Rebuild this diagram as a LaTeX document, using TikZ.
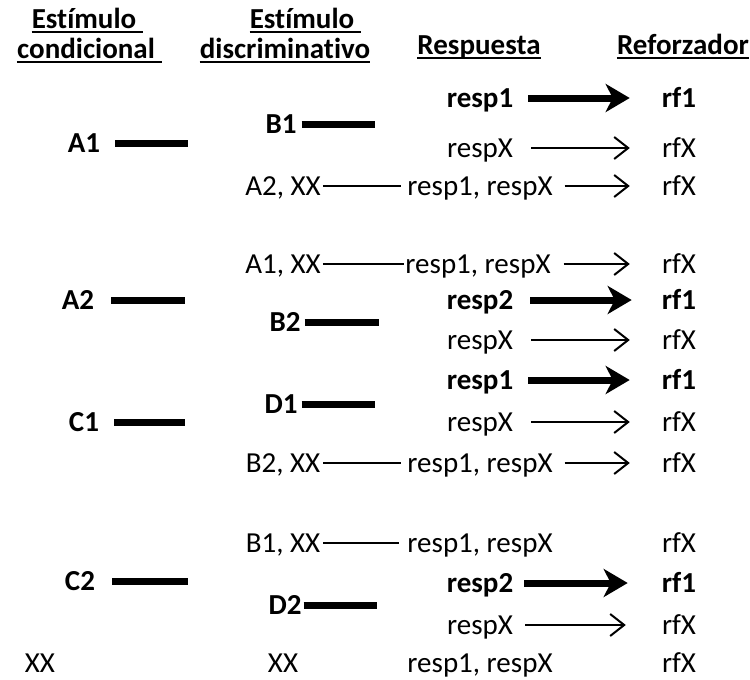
\documentclass[tikz,border=0pt]{standalone}
\usepackage{fontspec}
\setmainfont{Carlito}[Ligatures=NoCommon]
\usetikzlibrary{arrows.meta}
\begin{document}
\begin{tikzpicture}[x=1pt,y=-1pt,
  every node/.style={inner sep=0pt, text height=18pt, text depth=0pt,
    font=\fontsize{29}{33}\selectfont},
  bld/.style={font=\fontsize{29}{33}\selectfont\bfseries},
  hdr/.style={bld, text height=16pt},
  uline/.style={line width=2pt},
  bar/.style={line width=7pt},
  link/.style={line width=2pt},
  thinarr/.style={line width=2pt, shorten <=18pt, shorten >=32pt,
    -{Straight Barb[length=14pt,width=22pt,line width=2pt]}},
  thickarr/.style={line width=7pt, shorten <=15pt, shorten >=32pt,
    -{Stealth[length=24pt,width=28pt,inset=7pt]}},
]
\useasboundingbox (0,0) rectangle (750,680);

% column headings
\node[hdr] (h1a) at (84,20) {Estímulo};
\node[hdr] (h1b) at (86,50) {condicional};
\node[hdr] (h2a) at (302,20) {Estímulo};
\node[hdr] (h2b) at (285,50) {discriminativo};
\node[hdr] (h3) at (479,46) {Respuesta};
\node[hdr] (h4) at (683,46) {Reforzador};
\foreach \h/\extra in {h1a/7pt, h1b/7pt, h2a/7pt, h2b/0pt, h3/0pt, h4/0pt}
  \draw[uline] ([yshift=-4pt]\h.base west) -- ([xshift=\extra,yshift=-4pt]\h.base east);

% ---- block A1 / B1
\node[bld] (A1) at (84,143) {A1};
\coordinate (A1e) at (188,143);
\draw[bar, shorten <=15pt] (A1) -- (A1e);
\node[bld] (B1) at (281,124) {B1};
\coordinate (B1e) at (375,124);
\draw[bar, shorten <=5pt] (B1) -- (B1e);

\node[bld] (r1a) at (480,98) {resp1};
\node[bld] (f1a) at (679,98) {rf1};
\draw[thickarr] (r1a) -- (f1a);

\node (rxa) at (480,148) {respX};
\node (fxa) at (679,148) {rfX};
\draw[thinarr] (rxa) -- (fxa);

\node (sa) at (283,186) {A2, XX};
\node (rra) at (480,186) {resp1, respX};
\node (fra) at (679,186) {rfX};
\draw[link, shorten <=2pt, shorten >=6pt] (sa) -- (rra);
\draw[thinarr, shorten <=12pt] (rra) -- (fra);

% ---- block A2 / B2 and C1 / D1
\node (sb) at (283,264) {A1, XX};
\node (rrb) at (478,264) {resp1, respX};
\node (frb) at (679,264) {rfX};
\draw[link, shorten <=2pt, shorten >=1pt] (sb) -- (rrb);
\draw[thinarr, shorten <=13pt] (rrb) -- (frb);

\node[bld] (A2) at (78,300) {A2};
\coordinate (A2e) at (185,300);
\draw[bar, shorten <=17pt] (A2) -- (A2e);
\node[bld] (B2) at (285,322) {B2};
\coordinate (B2e) at (379,322);
\draw[bar, shorten <=4pt] (B2) -- (B2e);

\node[bld] (r2b) at (480,300) {resp2};
\node[bld] (f1b) at (679,300) {rf1};
\draw[thickarr, shorten <=17pt, shorten >=30pt] (r2b) -- (f1b);

\node (rxb) at (480,340) {respX};
\node (fxb) at (679,340) {rfX};
\draw[thinarr] (rxb) -- (fxb);

\node[bld] (r1c) at (480,380) {resp1};
\node[bld] (f1c) at (679,380) {rf1};
\draw[thickarr] (r1c) -- (f1c);

\node[bld] (D1) at (281,404) {D1};
\coordinate (D1e) at (375,404);
\draw[bar, shorten <=4pt] (D1) -- (D1e);
\node[bld] (C1) at (84,422) {C1};
\coordinate (C1e) at (185,422);
\draw[bar, shorten <=15pt] (C1) -- (C1e);

\node (rxc) at (480,422) {respX};
\node (fxc) at (679,422) {rfX};
\draw[thinarr] (rxc) -- (fxc);

\node (sc) at (283,463) {B2, XX};
\node (rrc) at (480,463) {resp1, respX};
\node (frc) at (679,463) {rfX};
\draw[link, shorten <=3pt, shorten >=6pt] (sc) -- (rrc);
\draw[thinarr, shorten <=12pt] (rrc) -- (frc);

% ---- block C2 / D2
\node (sd) at (283,543) {B1, XX};
\node (rrd) at (480,543) {resp1, respX};
\node (frd) at (679,543) {rfX};
\draw[link, shorten <=3pt, shorten >=8pt] (sd) -- (rrd);

\node[bld] (C2) at (80,581) {C2};
\coordinate (C2e) at (188,581);
\draw[bar, shorten <=17pt] (C2) -- (C2e);
\node[bld] (D2) at (285,605) {D2};
\coordinate (D2e) at (377,605);
\draw[bar, shorten <=2pt] (D2) -- (D2e);

\node[bld] (r2d) at (480,583) {resp2};
\node[bld] (f1d) at (679,583) {rf1};
\draw[thickarr, shorten <=11pt, shorten >=34pt] (r2d) -- (f1d);

\node (rxd) at (480,625) {respX};
\node (fxd) at (679,625) {rfX};
\draw[thinarr, shorten <=12pt, shorten >=36pt] (rxd) -- (fxd);

\node (se) at (40,663) {XX};
\node (te) at (283,663) {XX};
\node (rre) at (480,663) {resp1, respX};
\node (fre) at (679,663) {rfX};
\end{tikzpicture}
\end{document}
